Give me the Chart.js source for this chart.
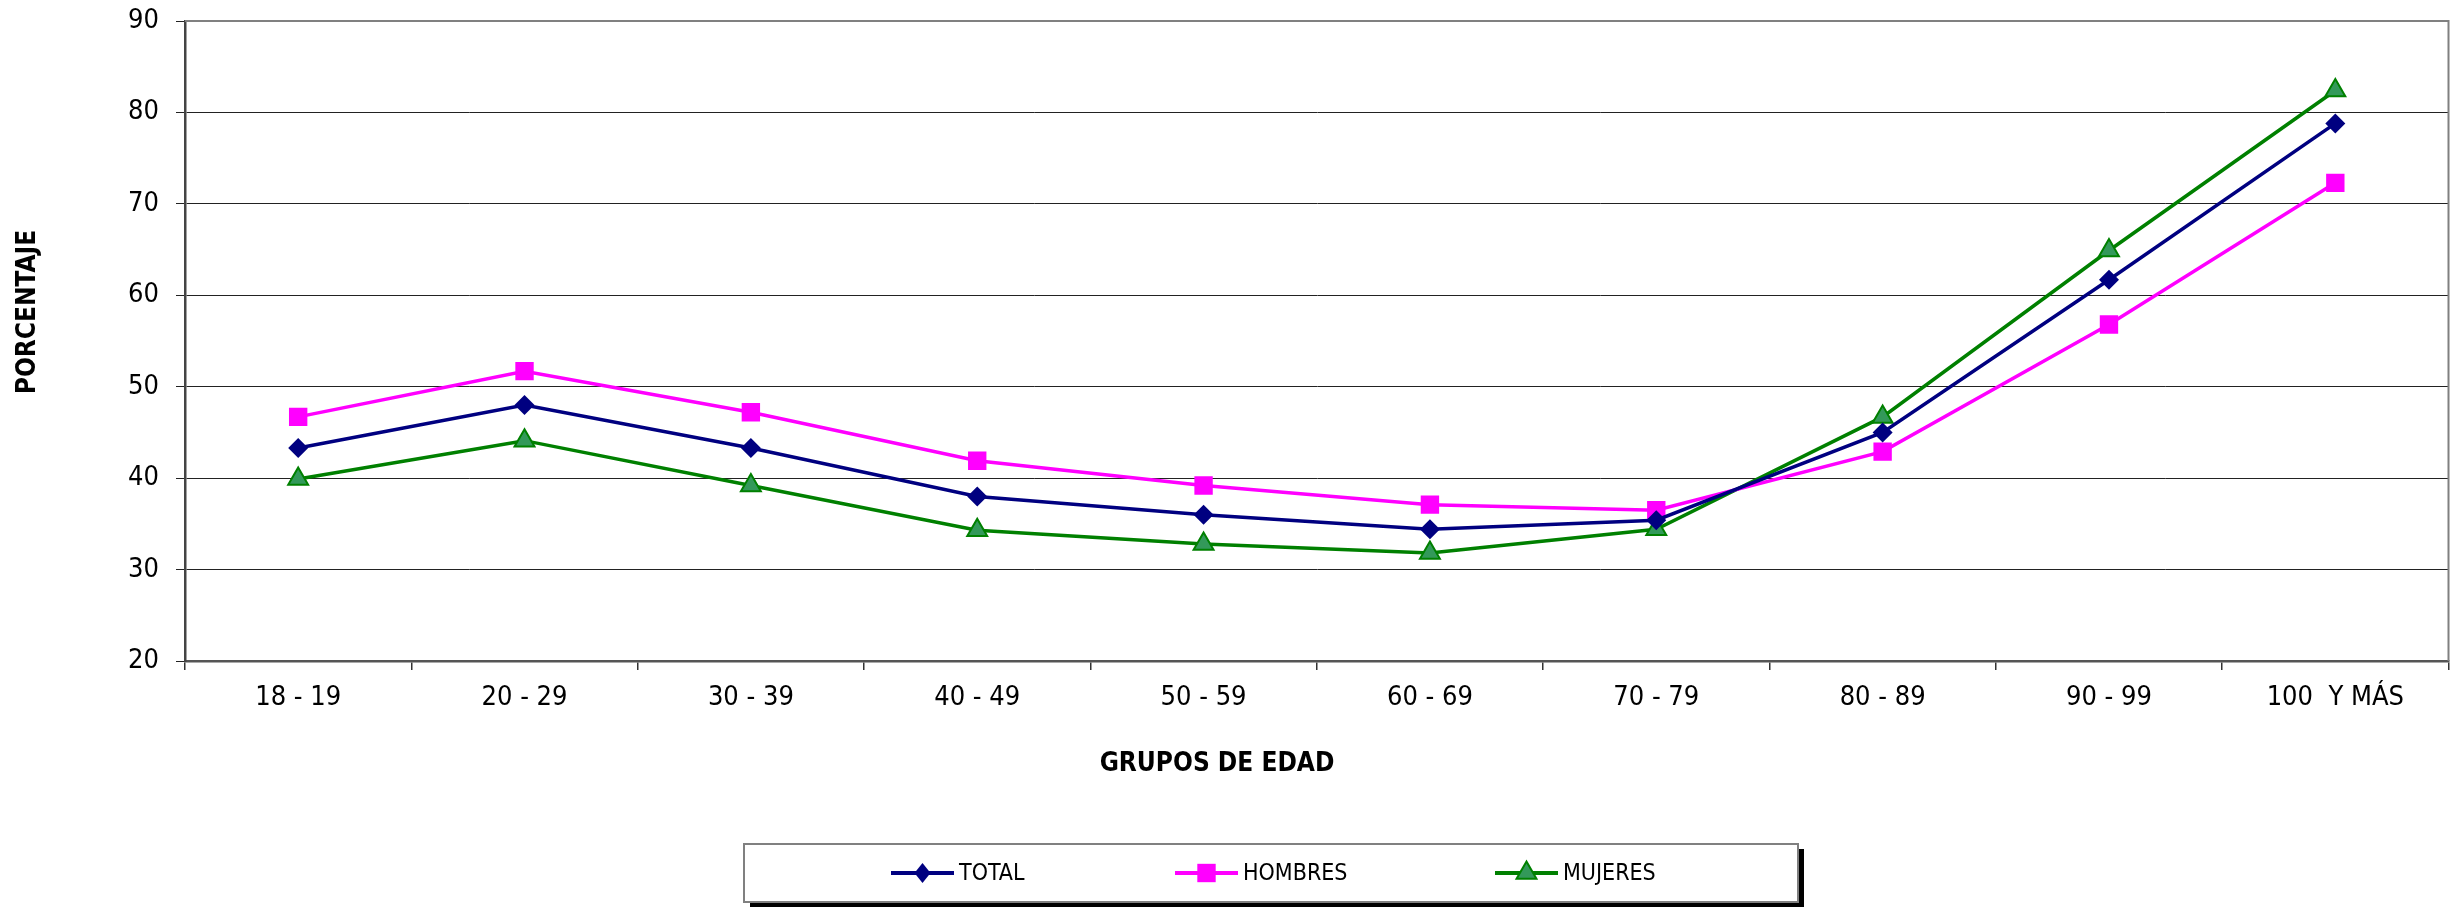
<!DOCTYPE html>
<html>
<head>
<meta charset="utf-8">
<style>
  html, body { margin: 0; padding: 0; background: #ffffff; }
  #wrap { position: relative; width: 2462px; height: 907px; }
</style>
<script src="https://cdn.jsdelivr.net/npm/chart.js@4/dist/chart.umd.min.js"></script>
</head>
<body>
<div id="wrap"><canvas id="c" width="2462" height="907"></canvas></div>
<script>
const categories = ['18 - 19', '20 - 29', '30 - 39', '40 - 49', '50 - 59', '60 - 69', '70 - 79', '80 - 89', '90 - 99', '100  Y MÁS'];
const total    = [43.3, 48.0, 43.3, 38.0, 36.0, 34.4, 35.4, 45.0, 61.7, 78.8];
const hombres  = [46.7, 51.7, 47.2, 41.9, 39.2, 37.1, 36.5, 42.9, 56.8, 72.3];
const mujeres  = [39.9, 44.1, 39.2, 34.3, 32.8, 31.8, 34.4, 46.7, 64.9, 82.4];
const seriesLabels = ['TOTAL', 'HOMBRES', 'MUJERES'];
const yTicks = [20, 30, 40, 50, 60, 70, 80, 90];
const xTitle = 'GRUPOS DE EDAD';
const yTitle = 'PORCENTAJE';

const FONT = "'DejaVu Sans Condensed', 'DejaVu Sans', sans-serif";

function drawShape(ctx, style, x, y, r) {
  if (style === 'rectRot') {
    ctx.moveTo(x - r * 0.8, y); ctx.lineTo(x, y - r); ctx.lineTo(x + r * 0.8, y); ctx.lineTo(x, y + r); ctx.closePath();
  } else if (style === 'rect') {
    const s = r * Math.SQRT1_2;
    ctx.rect(x - s, y - s, 2 * s, 2 * s);
  } else if (style === 'triangle') {
    ctx.moveTo(x, y - r);
    ctx.lineTo(x + r * 0.866, y + r * 0.5);
    ctx.lineTo(x - r * 0.866, y + r * 0.5);
    ctx.closePath();
  }
}

const frame = {
  id: 'frame',
  afterDatasetsDraw(chart) {
    const { ctx, chartArea: a } = chart;
    ctx.save();
    ctx.strokeStyle = '#808080';
    ctx.lineWidth = 2;
    ctx.beginPath();
    ctx.moveTo(a.left, a.top);
    ctx.lineTo(a.right, a.top);
    ctx.lineTo(a.right, a.bottom);
    ctx.stroke();
    ctx.restore();
  },
  afterDraw(chart) {
    const { ctx } = chart;
    ctx.save();
    ctx.fillStyle = '#000';
    ctx.font = "bold 26px " + FONT;
    ctx.textAlign = 'center';
    ctx.textBaseline = 'middle';
    ctx.fillText(xTitle, 1217, 764);
    ctx.save();
    ctx.translate(28, 312);
    ctx.rotate(-Math.PI / 2);
    ctx.fillText(yTitle, 0, 0);
    ctx.restore();

    // legend box
    const bx = 744, by = 844, bw = 1054, bh = 58;
    ctx.fillStyle = '#000';
    ctx.fillRect(bx + 6, by + 5, bw, bh);
    ctx.fillStyle = '#fff';
    ctx.fillRect(bx, by, bw, bh);
    ctx.strokeStyle = '#808080';
    ctx.lineWidth = 2;
    ctx.strokeRect(bx, by, bw, bh);

    const starts = [891, 1175, 1495];
    const cy = 873;
    chart.data.datasets.forEach((ds, i) => {
      const x0 = starts[i];
      ctx.strokeStyle = ds.borderColor;
      ctx.lineWidth = 4;
      ctx.beginPath();
      ctx.moveTo(x0, cy);
      ctx.lineTo(x0 + 63, cy);
      ctx.stroke();
      ctx.fillStyle = ds.pointBackgroundColor;
      ctx.strokeStyle = ds.pointBorderColor;
      ctx.lineWidth = ds.pointBorderWidth || 1;
      ctx.beginPath();
      drawShape(ctx, ds.pointStyle, x0 + 31.5, cy, ds.legendRadius);
      ctx.fill();
      if (ds.pointBorderWidth) ctx.stroke();
      ctx.fillStyle = '#000';
      ctx.font = "23px " + FONT;
      ctx.textAlign = 'left';
      ctx.textBaseline = 'middle';
      ctx.fillText(ds.label, x0 + 68, cy + 1);
    });
    ctx.restore();
  }
};

new Chart(document.getElementById('c'), {
  type: 'line',
  data: {
    labels: categories,
    datasets: [
      { label: seriesLabels[0], data: total, borderColor: '#000080', backgroundColor: '#000080',
        pointBackgroundColor: '#000080', pointBorderColor: '#000080', pointBorderWidth: 0,
        borderWidth: 3.5, pointStyle: 'rectRot', pointRadius: 10, legendRadius: 10 },
      { label: seriesLabels[1], data: hombres, borderColor: '#ff00ff', backgroundColor: '#ff00ff',
        pointBackgroundColor: '#ff00ff', pointBorderColor: '#ff00ff', pointBorderWidth: 0,
        borderWidth: 3.5, pointStyle: 'rect', pointRadius: 13, legendRadius: 13 },
      { label: seriesLabels[2], data: mujeres, borderColor: '#008000', backgroundColor: '#339955',
        pointBackgroundColor: '#33995a', pointBorderColor: '#008000', pointBorderWidth: 2,
        borderWidth: 3.5, pointStyle: 'triangle', pointRadius: 11.5, legendRadius: 11.5 }
    ]
  },
  options: {
    responsive: false,
    animation: false,
    devicePixelRatio: 1,
    layout: { padding: { left: 0, right: 13, top: 21, bottom: 0 } },
    elements: { line: { tension: 0 }, point: { hoverRadius: 10 } },
    plugins: { legend: { display: false }, tooltip: { enabled: false }, title: { display: false } },
    scales: {
      x: {
        type: 'category',
        offset: true,
        grid: { display: true, offset: true, drawOnChartArea: false, drawTicks: true, tickLength: 9, color: '#333', lineWidth: 1.5 },
        border: { display: true, color: '#555', width: 2.5 },
        ticks: { color: '#000', font: { family: FONT, size: 27 }, padding: 12, maxRotation: 0, autoSkip: false },
        afterFit(scale) { scale.height = 246; }
      },
      y: {
        min: 20, max: 90,
        afterBuildTicks(scale) { scale.ticks = yTicks.map(v => ({ value: v })); },
        grid: { color: '#222', lineWidth: 1, tickLength: 9, drawTicks: true },
        border: { display: true, color: '#444', width: 2.5 },
        ticks: { color: '#000', font: { family: FONT, size: 27, lineHeight: 0.5 }, padding: 17 },
        afterFit(scale) { scale.width = 185; scale.paddingTop = 0; scale.paddingBottom = 0; }
      }
    }
  },
  plugins: [frame]
});
</script>
</body>
</html>
